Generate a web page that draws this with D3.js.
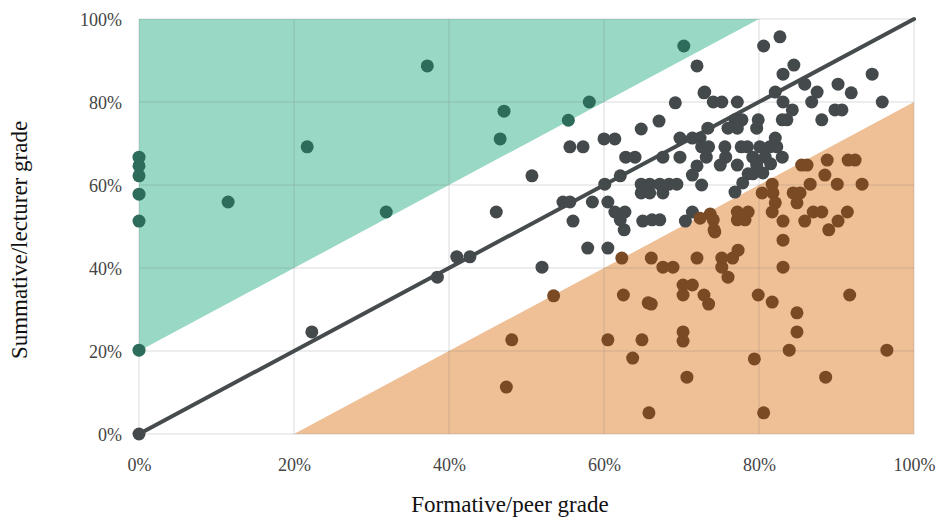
<!DOCTYPE html>
<html>
<head>
<meta charset="utf-8">
<script src="https://cdn.jsdelivr.net/npm/d3@7"></script>
<style>
  body { margin: 0; background: #fff; }
</style>
</head>
<body>
<div id="chart"></div>
<script>
// [formative/peer %, summative/lecturer %]
var lecturerHigher = [
  [0, 66.7], [0, 64.6], [0, 62.2], [0, 57.8], [0, 51.3], [0, 20.2],
  [11.5, 55.9], [21.7, 69.2], [31.9, 53.5], [37.2, 88.7], [47.1, 77.8],
  [46.6, 71.1], [55.4, 75.6], [58.1, 80.0], [70.3, 93.5]
];
var agreed = [
  [0, 0], [22.3, 24.6], [38.5, 37.8], [41.0, 42.7], [42.7, 42.7], [46.1, 53.5],
  [50.7, 62.2], [52.0, 40.2], [54.7, 55.9], [55.6, 55.9], [55.6, 69.2], [57.3, 69.2],
  [56.0, 51.3], [57.9, 44.8], [60.5, 44.8], [58.5, 55.9], [60.0, 71.1], [61.4, 71.1],
  [60.1, 60.2], [60.5, 55.9], [61.4, 53.5], [62.7, 53.5], [62.1, 62.2], [62.1, 51.6],
  [62.6, 49.2], [62.8, 66.7], [64.0, 66.7], [64.8, 73.5], [65.0, 51.3], [67.1, 75.4],
  [67.6, 66.7], [69.8, 66.7], [73.2, 66.7], [64.8, 60.2], [65.9, 60.2], [67.2, 60.2],
  [68.4, 60.2], [69.4, 60.2], [64.8, 58.1], [65.9, 58.1], [67.6, 58.1], [66.2, 51.6],
  [67.2, 51.6], [69.2, 79.8], [69.8, 71.3], [71.4, 71.3], [72.4, 71.3], [70.5, 51.3],
  [72.0, 88.7], [71.4, 62.4], [72.0, 64.6], [72.6, 60.0], [72.6, 69.2], [73.5, 69.2],
  [72.9, 82.2], [74.1, 80.0], [75.2, 80.0], [75.6, 69.2], [75.7, 66.7], [75.0, 64.8],
  [73.0, 82.4], [77.2, 80.0], [76.9, 75.7], [77.8, 75.7], [76.0, 73.7], [77.2, 73.7],
  [79.9, 75.7], [79.7, 73.7], [73.4, 73.7], [77.7, 69.2], [78.5, 69.2], [80.1, 69.2],
  [81.4, 69.2], [82.1, 71.3], [82.3, 69.2], [83.0, 66.7], [80.8, 66.7], [81.5, 65.1],
  [79.2, 66.7], [77.2, 64.8], [79.7, 64.8], [80.5, 62.9], [78.6, 62.7], [79.2, 62.7],
  [77.9, 60.5], [76.9, 58.3], [71.4, 53.5], [82.7, 95.7], [80.6, 93.5], [84.5, 88.9],
  [83.1, 86.7], [94.6, 86.7], [85.9, 84.3], [87.5, 82.4], [86.8, 80.0], [90.2, 84.3],
  [91.9, 82.2], [95.9, 80.0], [89.8, 78.1], [90.7, 78.1], [88.1, 75.7], [82.1, 82.4],
  [83.1, 80.0], [84.3, 78.1], [83.6, 75.7], [83.0, 75.7]
];
var peerHigher = [
  [47.4, 11.3], [48.1, 22.7], [53.5, 33.3], [60.5, 22.7], [62.3, 42.4], [62.5, 33.5],
  [63.7, 18.3], [64.9, 22.7], [65.7, 31.6], [65.8, 5.1], [66.1, 42.4], [66.1, 31.3],
  [67.6, 40.2], [68.9, 40.2], [70.2, 35.9], [71.4, 35.9], [70.2, 33.5], [72.9, 33.5],
  [73.5, 31.3], [70.2, 24.6], [70.2, 22.4], [70.7, 13.7], [72.0, 42.4], [74.3, 48.7],
  [75.2, 42.4], [75.2, 40.2], [76.0, 37.8], [76.6, 42.4], [77.3, 44.3], [72.4, 52.0],
  [73.7, 53.0], [74.1, 51.6], [74.2, 49.2], [77.2, 53.5], [78.6, 53.5], [77.2, 51.6],
  [78.2, 51.6], [79.9, 33.5], [81.7, 31.8], [91.7, 33.5], [80.4, 58.1], [81.7, 60.2],
  [81.8, 58.1], [82.1, 55.7], [81.7, 53.5], [84.4, 58.1], [85.3, 58.1], [84.9, 55.7],
  [83.1, 51.3], [85.9, 51.3], [83.1, 46.7], [83.1, 40.2], [87.0, 53.5], [88.1, 53.5],
  [91.4, 53.5], [90.2, 51.3], [89.0, 49.2], [86.6, 60.2], [88.5, 62.4], [90.1, 60.2],
  [93.3, 60.2], [85.5, 64.8], [86.2, 64.8], [88.8, 66.0], [91.5, 66.0], [92.4, 66.0],
  [84.9, 29.2], [84.9, 24.6], [83.9, 20.2], [96.5, 20.2], [79.4, 18.1], [88.6, 13.7],
  [80.6, 5.1]
];
var ticks = [0, 20, 40, 60, 80, 100];
// band edges, +-20 points around agreement
var greenZone = [[0, 20], [80, 100], [0, 100]];
var orangeZone = [[20, 0], [100, 80], [100, 0]];
var diagonal = [[0, 0], [100, 100]];

var W = 945, H = 519;
var x = d3.scaleLinear().domain([0, 100]).range([139, 914]);
var y = d3.scaleLinear().domain([0, 100]).range([434, 19]);

var svg = d3.select("#chart").append("svg").attr("width", W).attr("height", H);

var poly = d3.line().x(function(d) { return x(d[0]); }).y(function(d) { return y(d[1]); });

svg.append("path").attr("d", poly(greenZone) + "Z").attr("fill", "#98d8c5");
svg.append("path").attr("d", poly(orangeZone) + "Z").attr("fill", "#efbf96");

// grid
var grid = svg.append("g");
grid.selectAll(".gx").data(ticks).enter().append("line")
  .attr("x1", function(d) { return x(d); }).attr("x2", function(d) { return x(d); })
  .attr("y1", y(0)).attr("y2", y(100))
  .attr("stroke", "rgba(120,120,120,0.18)").attr("stroke-width", 1.5);
grid.selectAll(".gy").data(ticks).enter().append("line")
  .attr("y1", function(d) { return y(d); }).attr("y2", function(d) { return y(d); })
  .attr("x1", x(0)).attr("x2", x(100))
  .attr("stroke", "rgba(120,120,120,0.18)").attr("stroke-width", 1.5);

// axes (labels only)
var fmt = function(d) { return d + "%"; };
var xAxis = svg.append("g").attr("transform", "translate(0," + 453 + ")")
  .call(d3.axisBottom(x).tickValues(ticks).tickFormat(fmt).tickSize(0).tickPadding(5));
var yAxis = svg.append("g").attr("transform", "translate(" + 122 + ",0)")
  .call(d3.axisLeft(y).tickValues(ticks).tickFormat(fmt).tickSize(0).tickPadding(0));
svg.selectAll(".domain").remove();
svg.selectAll(".tick text")
  .attr("font-family", "'Liberation Serif', serif")
  .attr("font-size", 18).attr("fill", "#444");
yAxis.selectAll("text").attr("dy", "0.35em");

svg.append("path").attr("d", poly(diagonal)).attr("stroke", "#464b4d")
  .attr("stroke-width", 4).attr("fill", "none").attr("stroke-linecap", "round");

function dots(data, color) {
  svg.append("g").selectAll("circle").data(data).enter().append("circle")
    .attr("cx", function(d) { return x(d[0]); })
    .attr("cy", function(d) { return y(d[1]); })
    .attr("r", 6.5).attr("fill", color);
}
dots(agreed, "#44494c");
dots(peerHigher, "#7a4a24");
dots(lecturerHigher, "#2d6b5a");

svg.append("text").attr("font-family", "'Liberation Serif', serif").attr("font-size", 23)
  .attr("fill", "#111").attr("text-anchor", "middle")
  .attr("x", 510).attr("y", 512).text("Formative/peer grade");
svg.append("text").attr("font-family", "'Liberation Serif', serif").attr("font-size", 23)
  .attr("fill", "#111").attr("text-anchor", "middle")
  .attr("transform", "translate(27,240)rotate(-90)").text("Summative/lecturer grade");
</script>
</body>
</html>
